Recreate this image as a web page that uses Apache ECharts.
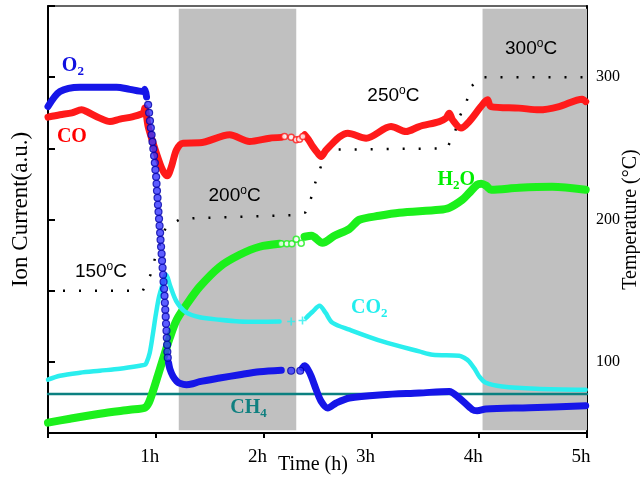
<!DOCTYPE html>
<html>
<head>
<meta charset="utf-8">
<script src="https://cdn.jsdelivr.net/npm/echarts@6/dist/echarts.min.js"></script>
<style>html,body{margin:0;padding:0;background:#fff}#c{width:640px;height:481px}</style>
</head>
<body>
<div id="c"></div>
<script>
// ---- data (time in hours) ----
const xTickLabels = ['', '1h', '2h', '3h', '4h', '5h'];
const rightTicks = [100, 200, 300];
const heatBands = [[1.213, 2.303], [4.031, 5]];

const tempT = [0, 0.88, 0.95, 0.99, 1.09, 1.22, 1.37, 2.26, 2.39, 2.44, 2.48, 2.53, 2.58, 3.70, 3.77, 3.81, 3.88, 3.92, 4.02, 5.0];
const tempC = [150, 150, 161, 172, 194, 200, 201, 203, 205, 215, 226, 237, 249, 250, 260, 271, 282, 293, 300, 300];

const o2T = [0, 0.111, 0.296, 0.481, 0.636, 0.759, 0.882, 0.898, 0.914, 1.0, 1.118, 1.130, 1.160, 1.194, 1.222, 1.284, 1.343, 1.407, 1.593, 1.778, 1.963, 2.164, 2.25, 2.361, 2.380, 2.407, 2.442, 2.488, 2.534, 2.595, 2.673, 2.796, 3.105, 3.444, 3.722, 3.815, 3.938, 3.981, 4.062, 4.463, 4.988];
const o2V = [4.587, 4.798, 4.860, 4.857, 4.860, 4.829, 4.798, 4.829, 4.723, null, 0.988, 0.903, 0.795, 0.728, 0.699, 0.678, 0.692, 0.721, 0.772, 0.819, 0.861, 0.882, null, 0.917, 0.945, 0.903, 0.795, 0.608, 0.444, 0.351, 0.421, 0.492, 0.538, 0.562, 0.584, 0.492, 0.327, 0.313, 0.337, 0.355, 0.383];
const o2DropT = [0.929,0.938,0.946,0.954,0.961,0.969,0.977,0.984,0.991,0.996,1.003,1.007,1.011,1.016,1.020,1.025,1.030,1.035,1.040,1.044,1.049,1.054,1.058,1.063,1.068,1.072,1.077,1.081,1.084,1.088,1.092,1.095,1.099,1.102,1.105,1.107,1.111];
const o2DropV = [4.611,4.499,4.386,4.288,4.190,4.091,3.993,3.895,3.796,3.698,3.600,3.502,3.403,3.305,3.207,3.108,3.010,2.912,2.813,2.715,2.617,2.519,2.420,2.322,2.224,2.125,2.027,1.928,1.830,1.732,1.634,1.535,1.437,1.338,1.240,1.142,1.058];
const o2GapT = [2.256, 2.340];
const o2GapV = [0.875, 0.875];

const coT = [0, 0.111, 0.222, 0.312, 0.358, 0.481, 0.574, 0.667, 0.790, 0.882, 0.898, 0.929, 0.975, 1.037, 1.074, 1.106, 1.145, 1.192, 1.253, 1.407, 1.685, 1.870, 2.056, 2.164, 2.2, 2.380, 2.417, 2.456, 2.500, 2.534, 2.574, 2.611, 2.704, 2.781, 2.951, 3.182, 3.321, 3.444, 3.630, 3.692, 3.722, 3.753, 3.831, 3.907, 4.016, 4.077, 4.108, 4.370, 4.556, 4.741, 4.956, 4.988];
const coV = [4.438, 4.471, 4.499, 4.541, 4.517, 4.424, 4.376, 4.410, 4.447, 4.494, 4.565, 4.306, 4.073, 3.792, 3.663, 3.614, 3.744, 3.979, 4.073, 4.077, 4.190, 4.096, 4.143, 4.154, null, 4.190, 4.120, 4.025, 3.937, 3.885, 3.965, 4.025, 4.161, 4.213, 4.143, 4.306, 4.236, 4.306, 4.376, 4.424, 4.494, 4.400, 4.284, 4.376, 4.587, 4.681, 4.587, 4.565, 4.541, 4.587, 4.691, 4.657];
const coGapT = [2.194, 2.256, 2.303, 2.333, 2.364];
const coGapV = [4.166, 4.157, 4.119, 4.129, 4.166];

const h2oT = [0, 0.204, 0.481, 0.759, 0.898, 0.935, 0.972, 1.019, 1.065, 1.130, 1.194, 1.284, 1.407, 1.593, 1.778, 1.963, 2.148, 2.2, 2.380, 2.444, 2.546, 2.657, 2.796, 2.889, 3.074, 3.259, 3.630, 3.722, 3.843, 3.907, 3.981, 4.019, 4.065, 4.111, 4.370, 4.676, 4.988];
const h2oV = [0.145, 0.201, 0.271, 0.327, 0.355, 0.425, 0.580, 0.805, 1.029, 1.338, 1.591, 1.802, 2.055, 2.336, 2.504, 2.617, 2.659, null, 2.757, 2.771, 2.672, 2.771, 2.869, 2.996, 3.052, 3.094, 3.136, 3.164, 3.277, 3.375, 3.488, 3.502, 3.474, 3.417, 3.446, 3.459, 3.417];
const h2oGapT = [2.164, 2.216, 2.262, 2.303, 2.349];
const h2oGapV = [2.659, 2.659, 2.659, 2.724, 2.668];

const co2T = [0, 0.111, 0.296, 0.481, 0.667, 0.852, 0.898, 0.914, 0.944, 0.972, 1.000, 1.028, 1.056, 1.083, 1.097, 1.130, 1.192, 1.284, 1.407, 1.593, 1.778, 1.963, 2.148, 2.2, 2.395, 2.454, 2.519, 2.574, 2.639, 2.796, 3.102, 3.444, 3.568, 3.815, 3.861, 3.907, 3.963, 4.000, 4.062, 4.213, 4.525, 4.988];
const co2V = [0.749, 0.805, 0.847, 0.875, 0.903, 0.945, 0.96, 0.99, 1.129, 1.381, 1.662, 1.901, 2.055, 2.196, 2.223, 2.083, 1.848, 1.690, 1.626, 1.591, 1.567, 1.563, 1.567, null, 1.619, 1.704, 1.788, 1.690, 1.549, 1.452, 1.287, 1.146, 1.100, 1.086, 1.057, 1.006, 0.889, 0.795, 0.706, 0.654, 0.622, 0.608];
const co2GapT = [2.256, 2.361];
const co2GapV = [1.567, 1.581];

const ch4T = [0, 5];
const ch4V = [0.548, 0.548];

// ---- helpers ----
const zip = (a, b) => a.map((t, i) => [t, b[i]]);
const SERIF = 'Liberation Serif';
const SANS = 'Liberation Sans';
const PLUS = 'path://M4,0H6V4H10V6H6V10H4V6H0V4H4Z';

function band(name, t, v, color, width, z) {
  return { name, type: 'line', data: zip(t, v), yAxisIndex: 0, showSymbol: false,
    smooth: 0.3, connectNulls: false, z,
    lineStyle: { color, width, cap: 'round', join: 'round' }, silent: true };
}
function dots(name, t, v, symbol, size, fill, border, bw, z) {
  return { name, type: 'scatter', data: zip(t, v), yAxisIndex: 0, symbol, symbolSize: size, z, silent: true,
    itemStyle: { color: fill, borderColor: border, borderWidth: bw } };
}
const tempLabel = (txt) => txt + '{sup|o}C';
const hidden = { color: 'rgba(0,0,0,0)' };
function annot(coord, formatter, color) {
  return { coord, symbol: 'rect', symbolSize: 1, itemStyle: hidden,
    label: { show: true, position: 'inside', formatter, color,
      fontFamily: SERIF, fontWeight: 'bold', fontSize: 20, lineHeight: 24,
      rich: { sub: { fontSize: 13, lineHeight: 12, verticalAlign: 'bottom', color, fontWeight: 'bold', fontFamily: SERIF } } } };
}
function tannot(coord, formatter) {
  return { coord, symbol: 'rect', symbolSize: 1, itemStyle: hidden,
    label: { show: true, position: 'inside', formatter, color: '#000',
      fontFamily: SANS, fontSize: 19, lineHeight: 22,
      rich: { sup: { fontSize: 12, lineHeight: 12, verticalAlign: 'top', color: '#000', fontFamily: SANS } } } };
}

const chart = echarts.init(document.getElementById('c'), null, { renderer: 'canvas' });
chart.setOption({
  animation: false,
  backgroundColor: '#fff',
  grid: { left: 48, right: 53, top: 6, bottom: 48, outerBoundsMode: 'none', containLabel: false,
    show: true, borderColor: '#333', borderWidth: 1.5, backgroundColor: 'transparent' },
  xAxis: {
    type: 'value', min: 0, max: 5, interval: 1,
    name: 'Time (h)', nameLocation: 'middle', nameGap: 22, nameMoveOverlap: false,
    nameTextStyle: { fontFamily: SERIF, fontSize: 20, color: '#000', padding: [0, 9, 0, 0] },
    axisLine: { show: true, lineStyle: { color: '#000', width: 2 } },
    axisTick: { show: true, inside: false, length: 5, lineStyle: { color: '#000', width: 2 } },
    axisLabel: { formatter: (v) => xTickLabels[Math.round(v)], fontFamily: SERIF, fontSize: 19, color: '#000', margin: 15, padding: [0, 12, 0, 0] },
    splitLine: { show: false }
  },
  yAxis: [
    {
      type: 'value', position: 'left', min: 0, max: 6, interval: 1,
      name: 'Ion Current(a.u.)', nameLocation: 'middle', nameGap: 16, nameRotate: 90, nameMoveOverlap: false,
      nameTextStyle: { fontFamily: SERIF, fontSize: 23, color: '#000', padding: [0, 0, 0, 20] },
      axisLine: { show: true, lineStyle: { color: '#000', width: 2 } },
      axisTick: { show: true, inside: true, length: 7, lineStyle: { color: '#000', width: 2 } },
      axisLabel: { show: false },
      splitLine: { show: false }
    },
    {
      type: 'value', position: 'right', min: 50, max: 350,
      name: 'Temperature (\u00b0C)', nameLocation: 'middle', nameGap: 34, nameRotate: 90, nameMoveOverlap: false,
      nameTextStyle: { fontFamily: SERIF, fontSize: 20, color: '#000' },
      axisLine: { show: true, lineStyle: { color: '#000', width: 2 } },
      axisTick: { show: true, inside: true, length: 7, customValues: rightTicks, lineStyle: { color: '#000', width: 2 } },
      axisLabel: { customValues: rightTicks, fontFamily: SERIF, fontSize: 16, color: '#000', margin: 9 },
      splitLine: { show: false }
    }
  ],
  series: [
    { name: 'bands', type: 'line', data: [], yAxisIndex: 0, z: 1, silent: true,
      markArea: { silent: true, itemStyle: { color: '#c0c0c0' },
        data: heatBands.map(b => [{ xAxis: b[0], yAxis: 0.04 }, { xAxis: b[1], yAxis: 5.96 }]) },
      markPoint: { silent: true, data: [
        annot([0.231, 5.16], 'O{sub|2}', '#1010e0'),
        annot([0.222, 4.16], 'CO', '#ff0000'),
        annot([3.787, 3.556], 'H{sub|2}O', '#00ee00'),
        annot([2.981, 1.757], 'CO{sub|2}', '#22eeee'),
        annot([1.861, 0.355], 'CH{sub|4}', '#108080')
      ] } },
    { name: 'Temperature', type: 'line', yAxisIndex: 1, data: zip(tempT, tempC), showSymbol: false, z: 3, silent: true,
      lineStyle: { color: '#000', width: 2.5, type: [2, 14], dashOffset: 1 },
      markPoint: { silent: true, data: [
        tannot([0.491, 163], tempLabel('150')),
        tannot([1.731, 216.5], tempLabel('200')),
        tannot([3.204, 287], tempLabel('250')),
        tannot([4.481, 320], tempLabel('300'))
      ] } },
    band('CH4', ch4T, ch4V, '#0b8080', 2.5, 4),
    band('H2O', h2oT, h2oV, '#1cf01c', 8, 5),
    dots('H2O gap', h2oGapT, h2oGapV, 'circle', 6, '#fff', '#1cf01c', 1.5, 5),
    band('CO2', co2T, co2V, '#2aeeee', 4.5, 6),
    dots('CO2 gap', co2GapT, co2GapV, PLUS, 8, '#2aeeee', '#2aeeee', 0, 6),
    band('CO', coT, coV, '#ff1a1a', 7, 7),
    dots('CO gap', coGapT, coGapV, 'circle', 6, '#fff', '#ff1a1a', 1.5, 7),
    band('O2', o2T, o2V, '#1616e8', 7, 8),
    dots('O2 drop', o2DropT, o2DropV, 'circle', 7, '#3535ff', '#0000a8', 1.2, 9),
    dots('O2 gap', o2GapT, o2GapV, 'circle', 7, '#3535ff', '#0000a8', 1.2, 9)
  ]
});
</script>
</body>
</html>
